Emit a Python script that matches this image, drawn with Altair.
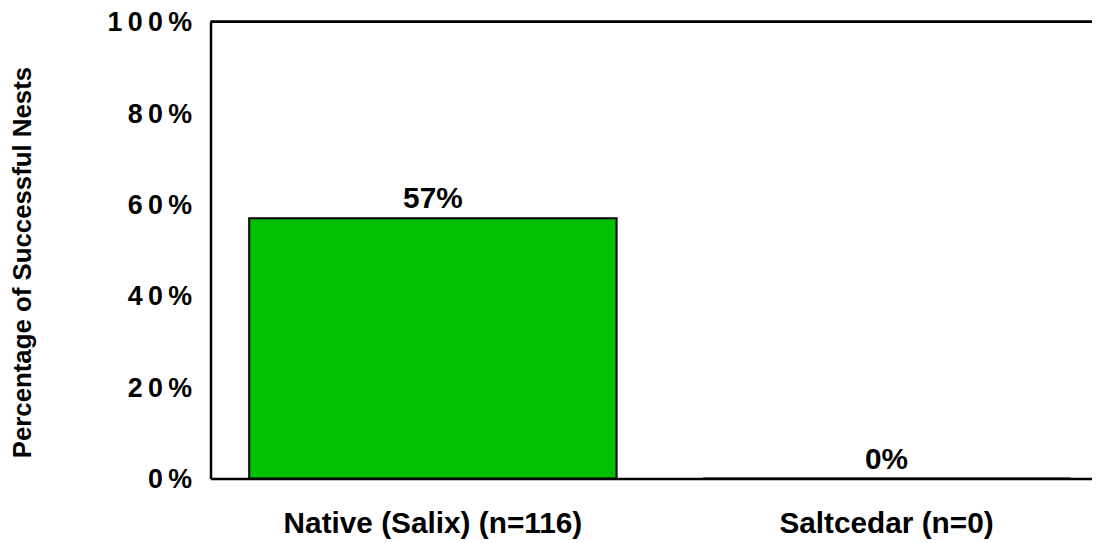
import altair as alt
import pandas as pd

categories = ["Native (Salix) (n=116)", "Saltcedar (n=0)"]
values = [57, 0]
y_ticks = [0, 20, 40, 60, 80, 100]

df = pd.DataFrame({"habitat": categories, "pct": values})

FONT = "Liberation Sans"

x_enc = alt.X(
    "habitat:N",
    sort=categories,
    scale=alt.Scale(paddingInner=0.19, paddingOuter=0.0666, align=0.64),
    axis=alt.Axis(
        title=None,
        labelAngle=0,
        labelFont=FONT,
        labelFontSize=30,
        labelFontWeight="bold",
        labelColor="black",
        labelPadding=30,
        labelLimit=600,
        ticks=False,
        domainColor="black",
        domainWidth=2.5,
    ),
)

y_scale = alt.Scale(domain=[0, 100], nice=False)

bars = alt.Chart(df).mark_bar(
    color="#00C000", stroke="black", strokeWidth=2
).encode(
    x=x_enc,
    y=alt.Y(
        "pct:Q",
        scale=y_scale,
        axis=alt.Axis(
            values=y_ticks,
            title="Percentage of Successful Nests",
            titleFont=FONT,
            titleFontSize=26,
            titleFontWeight="bold",
            titleColor="black",
            titleAngle=-90,
            titleX=-189,
            titleY=242,
            titleAlign="center",
            titleBaseline="middle",
            labelFont=FONT,
            labelFontSize=27,
            labelFontWeight="bold",
            labelColor="black",
            labelPadding=19,
            labelLimit=300,
            labelOffset=1,
            labelExpr="join(split(datum.value + '%', ''), '\u2009')",
            ticks=False,
            grid=False,
            domainColor="black",
            domainWidth=2.5,
        ),
    ),
)

labels = alt.Chart(df).transform_calculate(
    lab="datum.pct + '%'"
).mark_text(
    font=FONT, fontSize=30, fontWeight="bold", color="black",
    baseline="alphabetic", dy=-10
).encode(
    x=alt.X("habitat:N", sort=categories),
    y=alt.Y("pct:Q", scale=y_scale),
    text="lab:N",
)

top_line = alt.Chart(df).mark_rule(color="black", strokeWidth=2.5).encode(
    y=alt.datum(100)
)

chart = alt.layer(bars, labels, top_line).properties(
    width=888,
    height=460,
    padding={"left": 204, "top": 12, "right": 0, "bottom": 60},
    autosize="none",
    background="white",
).configure_view(stroke=None)

chart.save("out.html", embed_options={"renderer": "svg", "actions": False})
